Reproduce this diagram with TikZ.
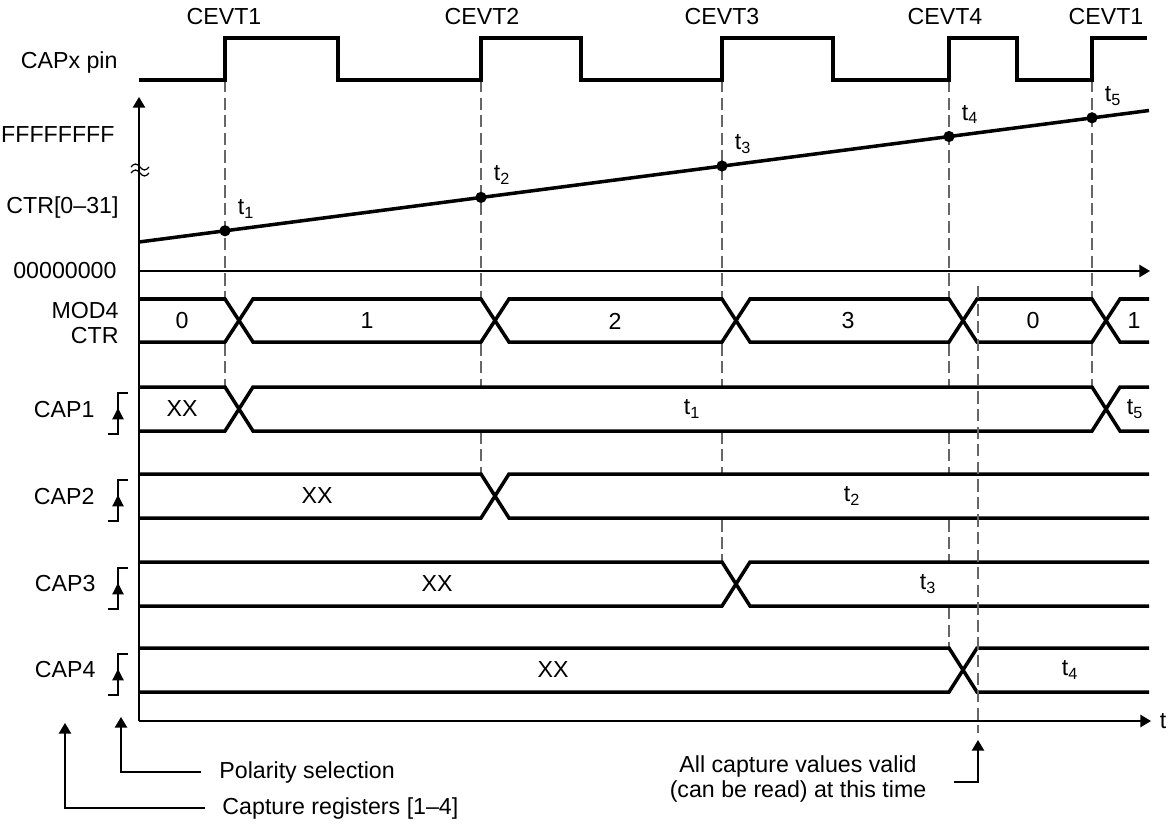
\documentclass[tikz,border=0pt]{standalone}
\usepackage{fontspec}
\setmainfont{Liberation Sans}
\usepackage{tikz}
\usetikzlibrary{arrows.meta}
\tikzset{every picture/.style={line width=0.7pt}}
\newcommand{\tn}[1]{t\textsubscript{#1}}

\begin{document}
\begin{tikzpicture}[x=0.02cm,y=-0.02cm,
  font=\fontsize{13.2}{14.6}\selectfont,
  sig/.style={line width=2pt},
  evt/.style={line width=0.6pt,black!60,dash pattern=on 7pt off 3pt},
  ax/.style={line width=0.7pt},
  tri/.style={-{Triangle[length=6pt,width=7pt]}}]
\useasboundingbox (0,0) rectangle (1170,829);
%
\node (cevt1) at (224,17) {CEVT1};
\node (cevt2) at (482,17) {CEVT2};
\node (cevt3) at (722,17) {CEVT3};
\node (cevt4) at (945,17) {CEVT4};
\node (cevt5) at (1106,17) {CEVT1};
%
\node[anchor=east] (pin) at (124,62) {CAPx pin};
\node[anchor=east] (ffff) at (121,135) {FFFFFFFF};
\node[anchor=east] (ctr) at (125,207) {CTR[0--31]};
\node[anchor=east] (zero) at (123,271) {00000000};
\node[anchor=east,align=right] (mod) at (125,323) {MOD4\\CTR};
\node[anchor=east] (cap1) at (101,410) {CAP1};
\node[anchor=east] (cap2) at (101,497) {CAP2};
\node[anchor=east] (cap3) at (102,584) {CAP3};
\node[anchor=east] (cap4) at (102,670) {CAP4};
%
% event lines, hidden inside the rows
\foreach \Name/\X/\Y in {ev1/225/387, ev2/481/474, ev3/722/562, ev4/949/648, ev5/1092/387}{
  \coordinate (\Name) at (\X,80);
  \draw[evt] (\Name) -- (\X,\Y);
}
\foreach \T in {299,387,474,562,648}
  \fill[white] (139,\T) rectangle (1149,\T+43);
%
\draw[ax,tri] (139,721) -- (139,97);
\draw[ax,tri] (139,271) -- (1150,271);
\draw[ax,tri] (139,721) -- (1151,721);
\node (tlab) at (1163,721) {t};
\draw[ax] (131,167) sin (135.5,164) cos (140,167) sin (144.5,170) cos (149,167);
\draw[ax] (131,173) sin (135.5,170) cos (140,173) sin (144.5,176) cos (149,173);
%
\draw[sig] (139,80) -- (ev1) -- (225,38) -- (338,38) -- (338,80) -- (ev2) -- (481,38)
  -- (581,38) -- (581,80) -- (ev3) -- (722,38) -- (833,38) -- (833,80) -- (ev4)
  -- (949,38) -- (1017,38) -- (1017,80) -- (ev5) -- (1092,38) -- (1147,38);
%
\draw[sig] (139,242) -- (1149,110.5);
\foreach \X/\Y/\N in {225/230.8/1, 481/197.4/2, 722/166/3, 949/136.5/4, 1092/117.8/5}{
  \fill (\X,\Y) circle (3.2pt);
  \node (t\N) at (\X+21,\Y-22) {\tn{\N}};
}
%
\draw[sig] (139,299) -- (225,299) -- (253,342) -- (481,342) -- (509,299) -- (722,299)
  -- (750,342) -- (949,342) -- (977,299) -- (1092,299) -- (1120,342) -- (1149,342);
\draw[sig] (139,342) -- (225,342) -- (253,299) -- (481,299) -- (509,342) -- (722,342)
  -- (750,299) -- (949,299) -- (977,342) -- (1092,342) -- (1120,299) -- (1149,299);
\draw[sig] (139,387) -- (225,387) -- (253,431) -- (1092,431) -- (1120,387) -- (1149,387);
\draw[sig] (139,431) -- (225,431) -- (253,387) -- (1092,387) -- (1120,431) -- (1149,431);
\foreach \T/\X in {474/481, 562/722, 648/949}{
  \draw[sig] (139,\T) -- (\X,\T) -- (\X+28,\T+44) -- (1149,\T+44);
  \draw[sig] (139,\T+44) -- (\X,\T+44) -- (\X+28,\T) -- (1149,\T);
}
%
\foreach \Name/\X/\Y/\Txt in {m1/182/321/0, m2/367/321/1, m3/615/321/2, m4/848/321/3,
    m5/1033/321/0, m6/1134/321/1, c1/182/409/XX, c2/692/409/\tn{1}, c3/1135/409/\tn{5},
    c4/317/496/XX, c5/852/496/\tn{2}, c6/437/584/XX, c7/928/584/\tn{3},
    c8/553/670/XX, c9/1070/670/\tn{4}}
  \node (\Name) at (\X,\Y) {\Txt};
%
% polarity marks
\foreach \T in {387,474,562,648}{
  \draw[ax] (108,\T+47) -- (118,\T+47) -- (118,\T+6) -- (128,\T+6);
  \draw[ax,-{Triangle[length=6.5pt,width=6.5pt]}] (118,\T+34) -- (118,\T+21);
}
%
\draw[evt] (978,286) -- (978,733);
%
\node[anchor=west] (pol) at (213,772) {Polarity selection};
\draw[ax,tri] ([xshift=-7pt]pol.west) -| (121,717);
\node[anchor=west] (reg) at (216,808) {Capture registers [1--4]};
\draw[ax,tri] ([xshift=-6pt]reg.west) -| (65,723);
\node[align=center] (valid) at (798,779) {All capture values valid\\(can be read) at this time};
\draw[ax,tri] (954,782) -| (978,740);
\end{tikzpicture}
\end{document}
